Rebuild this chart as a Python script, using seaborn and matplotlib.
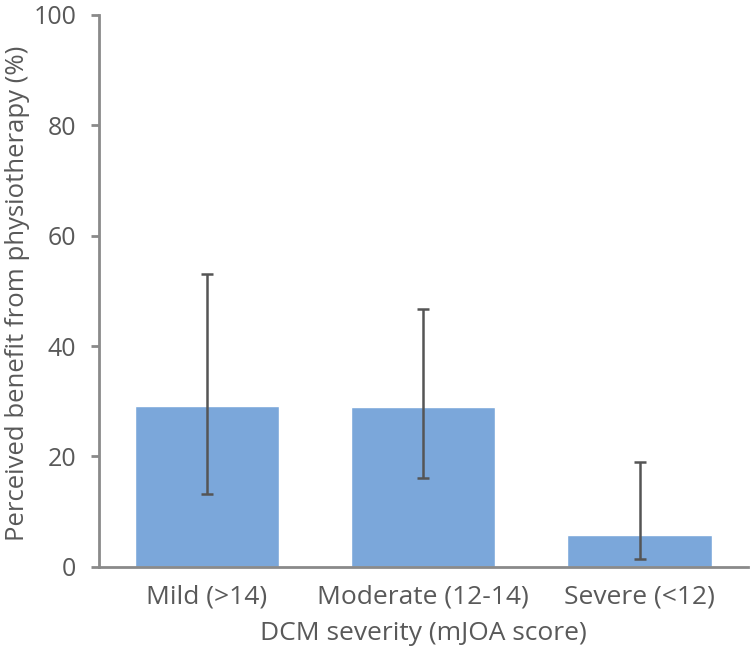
import numpy as np
import pandas as pd
import matplotlib
matplotlib.use('Agg')
import matplotlib.pyplot as plt
import seaborn as sns

categories = ['Mild (>14)', 'Moderate (12-14)', 'Severe (<12)']
benefit = [29.1, 28.9, 5.7]
err_low = [13.1, 16.0, 1.4]
err_high = [53.0, 46.7, 18.9]

sns.set_style('white')
plt.rcParams['font.family'] = ['Open Sans', 'DejaVu Sans']

text_col = '#595959'
axis_col = '#8a8a8a'
bar_col = '#7BA7DA'

df = pd.DataFrame({'Severity': categories, 'Benefit': benefit})

fig = plt.figure(figsize=(7.5, 6.55), dpi=100)
ax = fig.add_axes([98.7 / 750, 1 - 566.7 / 655, (747.7 - 98.7) / 750, (566.7 - 15) / 655])

sns.barplot(data=df, x='Severity', y='Benefit', color=bar_col, saturation=1,
            width=0.667, errorbar=None, ax=ax)

# asymmetric error bars
lower = np.array(benefit) - np.array(err_low)
upper = np.array(err_high) - np.array(benefit)
ax.errorbar(np.arange(len(categories)), benefit, yerr=[lower, upper], fmt='none',
            ecolor='#555555', elinewidth=1.8, capsize=4, capthick=1.8)

ax.set_xlim(-0.5, 2.5)
ax.set_ylim(0, 100)
ax.set_yticks(range(0, 101, 20))

for side in ['top', 'right']:
    ax.spines[side].set_visible(False)
for side in ['left', 'bottom']:
    ax.spines[side].set_color(axis_col)
    ax.spines[side].set_linewidth(2)

ax.tick_params(axis='y', length=6, width=2, color=axis_col, labelsize=18,
               labelcolor=text_col, pad=10, left=True)
ax.tick_params(axis='x', length=0, labelsize=19, labelcolor=text_col, pad=13)

ax.set_xlabel('DCM severity (mJOA score)', fontsize=19, color=text_col, labelpad=8)
ax.set_ylabel('Perceived benefit from physiotherapy (%)', fontsize=18.5, color=text_col)
ax.yaxis.set_label_coords(-0.106, 0.495)

fig.savefig('out.png', dpi=100)
